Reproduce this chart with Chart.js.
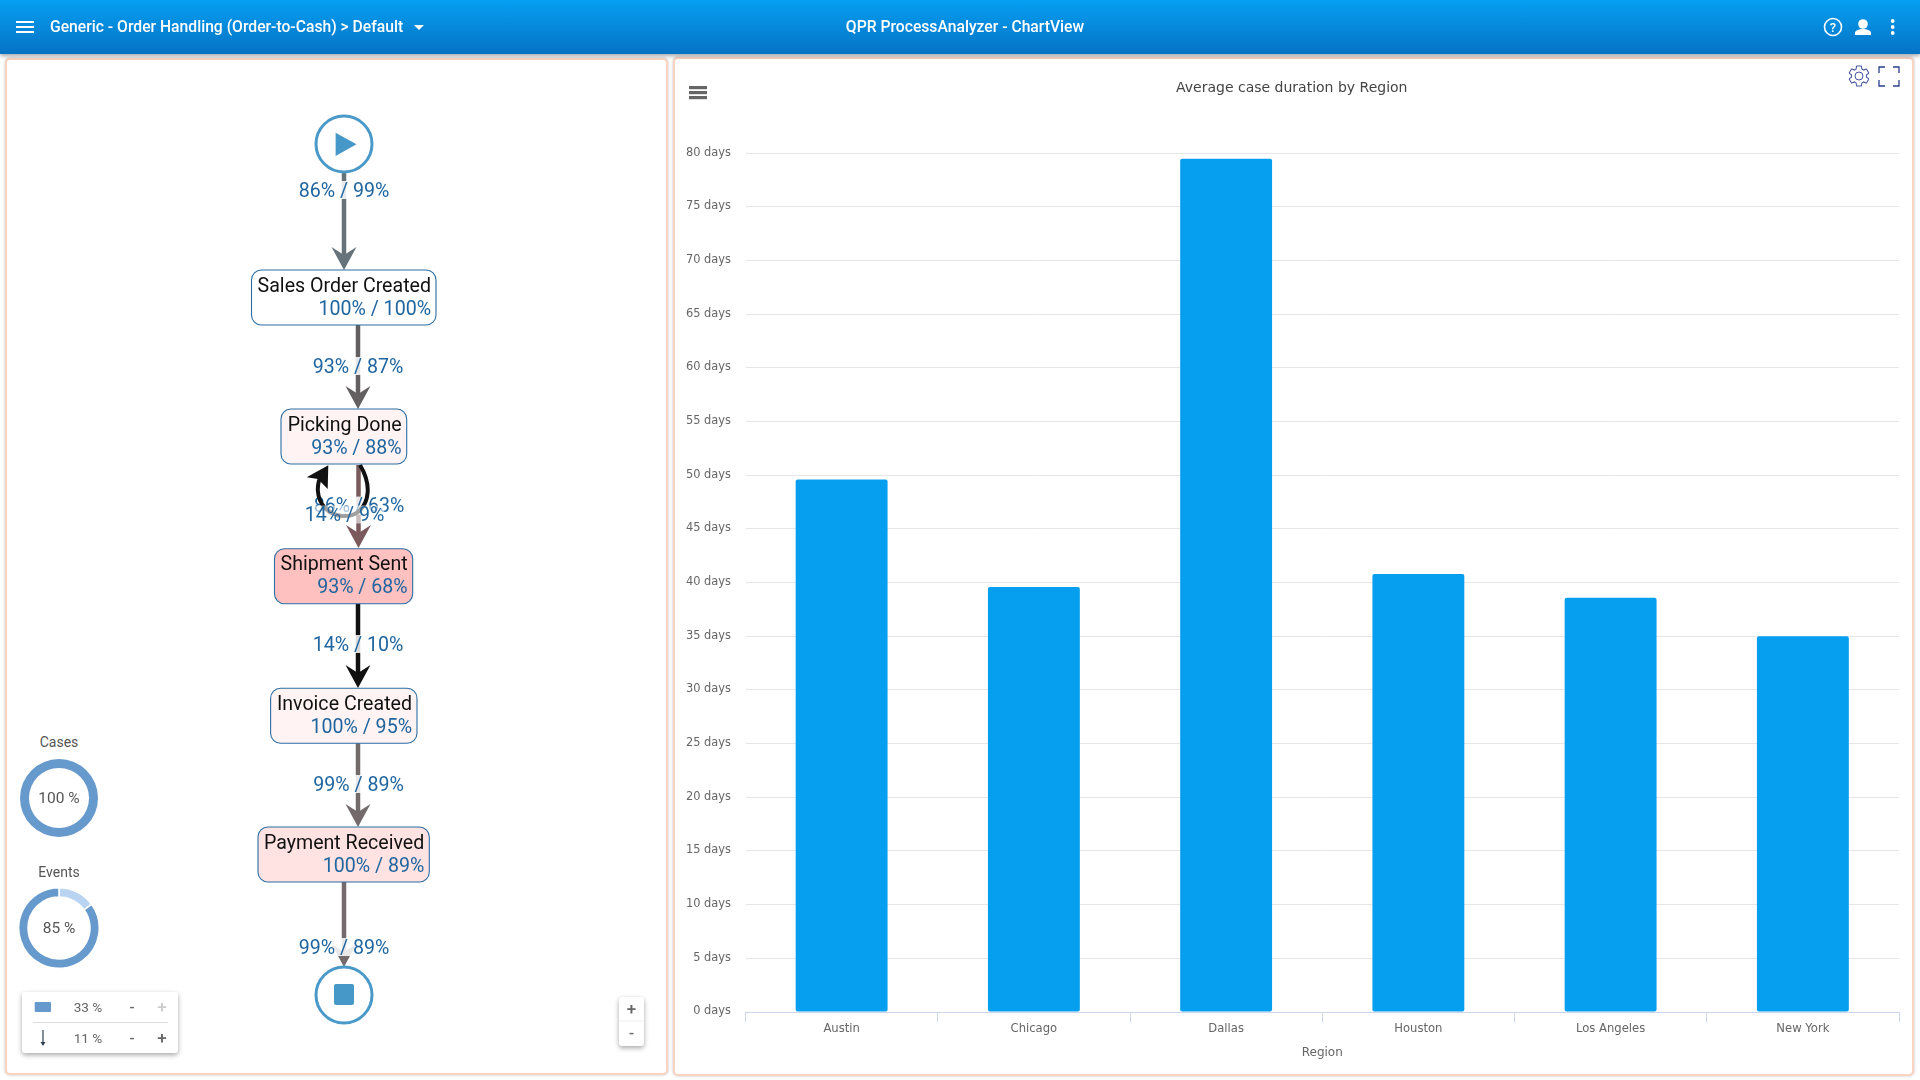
<!DOCTYPE html>
<html>
<head>
<meta charset="utf-8">
<title>QPR ProcessAnalyzer - ChartView</title>
<script src="https://cdn.jsdelivr.net/npm/chart.js@4/dist/chart.umd.min.js"></script>
<style>
  html, body { margin: 0; padding: 0; background: #fff; overflow: hidden; }
  body { width: 1920px; height: 1080px; position: relative; font-family: Roboto, sans-serif; }
  .header {
    position: absolute; left: 0; top: 0; width: 1920px; height: 54px; z-index: 3;
    background: linear-gradient(#069ff2, #0673c4);
    box-shadow: 0 2px 4px rgba(0, 0, 0, 0.35);
    color: #fff; font-size: 15.7px; font-weight: 500;
  }
  .header span { position: absolute; top: 17px; line-height: 20px; white-space: nowrap; }
  .panel {
    position: absolute; box-sizing: border-box; background: #fff;
    border: 2px solid #fbd3c1; border-radius: 5px;
    box-shadow: 0 0 3px rgba(0, 0, 0, 0.25);
  }
  #mapPanel { left: 5px; top: 58px; width: 663px; height: 1017px; }
  #chartPanel { left: 673px; top: 57px; width: 1241px; height: 1019px; }
  #overlay { position: absolute; left: 0; top: 0; z-index: 2; }
  #barChart { position: absolute; left: 675px; top: 59px; z-index: 1; }
  .donut { position: absolute; z-index: 2; }
  .small { position: absolute; z-index: 2; color: #555; font-size: 14px; text-align: center; width: 80px; left: 19px; }
  .box { position: absolute; z-index: 1; background: #fff; border-radius: 3px; box-shadow: 0 2px 5px rgba(0, 0, 0, 0.35); }
  #sizeBox { left: 22px; top: 992px; width: 156px; height: 61px; }
  #zoomBox { left: 619px; top: 997px; width: 25px; height: 49px; }
</style>
</head>
<body>
<div class="header">
  <span id="viewName" style="left:50px"></span>
  <span id="appName" style="left:845px;width:240px;text-align:center"></span>
</div>
<div id="mapPanel" class="panel"></div>
<div id="chartPanel" class="panel"></div>
<canvas id="barChart" width="1237" height="1014"></canvas>
<div class="box" id="sizeBox"></div>
<div class="box" id="zoomBox"></div>
<div class="small" style="top:734px">Cases</div>
<canvas class="donut" id="casesDonut" width="80" height="80" style="left:19px;top:758px"></canvas>
<div class="small" style="top:789px;font-size:15.5px">100 %</div>
<div class="small" style="top:864px">Events</div>
<canvas class="donut" id="eventsDonut" width="84" height="84" style="left:17px;top:886px"></canvas>
<div class="small" style="top:919px;font-size:15.5px">85 %</div>
<svg id="overlay" width="1920" height="1080" xmlns="http://www.w3.org/2000/svg"></svg>

<script>
// chart values
const regions = ['Austin', 'Chicago', 'Dallas', 'Houston', 'Los Angeles', 'New York'];
const avgDurationDays = [49.6, 39.6, 79.5, 40.8, 38.6, 35.0];
const yAxisMax = 80;
const yAxisStep = 5;
const chartTitle = 'Average case duration by Region';
const xAxisTitle = 'Region';

// process map values
const nodeNames = ['Sales Order Created', 'Picking Done', 'Shipment Sent', 'Invoice Created', 'Payment Received'];
const nodeShares = ['100% / 100%', '93% / 88%', '93% / 68%', '100% / 95%', '100% / 89%'];
const edgeShares = ['86% / 99%', '93% / 87%', '86% / 63%', '14% / 9%', '14% / 10%', '99% / 89%', '99% / 89%'];
const casesShare = [100];
const eventsShare = [15, 85];
const sizeSettings = ['33 %', '11 %'];

document.getElementById('viewName').textContent = 'Generic - Order Handling (Order-to-Cash) > Default';
document.getElementById('appName').textContent = 'QPR ProcessAnalyzer - ChartView';

new Chart('barChart', {
  type: 'bar',
  data: {
    labels: regions,
    datasets: [{
      data: avgDurationDays,
      backgroundColor: '#069eef',
      borderRadius: 2,
      borderSkipped: false,
      categoryPercentage: 1,
      barPercentage: 0.478,
    }],
  },
  options: {
    responsive: false,
    animation: false,
    layout: { padding: { left: 9.5, right: 13, bottom: 9 } },
    plugins: {
      legend: { display: false },
      tooltip: { enabled: false },
      title: {
        display: true,
        text: chartTitle,
        color: '#444',
        font: { family: 'DejaVu Sans', size: 14, weight: 'normal' },
        padding: { top: 21, bottom: 56.5 },
      },
    },
    scales: {
      x: {
        afterFit: (scale) => { scale.height = 52; },
        border: { color: '#ccd6eb', width: 1 },
        grid: { drawOnChartArea: false, drawTicks: true, tickLength: 10, tickColor: '#ccd6eb' },
        ticks: { color: '#666', font: { family: 'DejaVu Sans', size: 11.6 }, padding: 0, maxRotation: 0, autoSkip: false },
        title: {
          display: true,
          text: xAxisTitle,
          color: '#666',
          font: { family: 'DejaVu Sans', size: 12 },
          padding: { top: 1, bottom: 4 },
        },
      },
      y: {
        afterFit: (scale) => { scale.width = 61; },
        min: 0,
        max: yAxisMax,
        border: { display: false },
        grid: { color: '#e6e6e6', drawTicks: false },
        ticks: {
          stepSize: yAxisStep,
          color: '#666',
          font: { family: 'DejaVu Sans', size: 11.4 },
          padding: 14.5,
          labelOffset: -0.5,
          callback: (v) => `${v} days`,
        },
      },
    },
  },
});

function donut(id, data, colors, border) {
  new Chart(id, {
    type: 'doughnut',
    data: { datasets: [{ data, backgroundColor: colors, borderWidth: border, borderColor: '#fff' }] },
    options: {
      responsive: false,
      animation: false,
      cutout: '77%',
      layout: { padding: 1 },
      plugins: { legend: { display: false }, tooltip: { enabled: false } },
    },
  });
}
donut('casesDonut', casesShare, ['#6699cc'], 0);
donut('eventsDonut', eventsShare, ['#b8d4f0', '#6699cc'], 1.5);

// the process map and the icons around it are plain svg
const svg = document.getElementById('overlay');
const NS = 'http://www.w3.org/2000/svg';

function add(tag, attrs, text) {
  const el = document.createElementNS(NS, tag);
  Object.keys(attrs).forEach((k) => el.setAttribute(k, attrs[k]));
  if (text) el.textContent = text;
  svg.appendChild(el);
  return el;
}

function arrow(x, tip, color) {
  add('path', { d: `M${x},${tip} L${x - 12.5},${tip - 23} L${x},${tip - 15} L${x + 12.5},${tip - 23} Z`, fill: color });
}

function edge(x, y0, y1, color) {
  add('line', { x1: x, y1: y0, x2: x, y2: y1 - 10, stroke: color, 'stroke-width': 4.5 });
  arrow(x, y1, color);
}

function edgeLabel(i, x, y, wash = 0.85) {
  const t = add('text', { x, y, 'text-anchor': 'middle', 'dominant-baseline': 'central', 'font-size': 19.6, fill: '#1f659f' }, edgeShares[i]);
  const w = t.getComputedTextLength();
  const r = add('rect', { x: x - w / 2, y: y - 9, width: w, height: 18, fill: '#fff', 'fill-opacity': wash });
  svg.insertBefore(r, t);
}

function node(i, x0, x1, y0, fill) {
  add('rect', { x: x0, y: y0, width: x1 - x0, height: 55, rx: 10, fill, stroke: '#2c6ea4', 'stroke-width': 1.1 });
  add('text', { x: x1 - 5, y: y0 + 15, 'text-anchor': 'end', 'dominant-baseline': 'central', 'font-size': 19.6, fill: '#111' }, nodeNames[i]);
  add('text', { x: x1 - 5, y: y0 + 38, 'text-anchor': 'end', 'dominant-baseline': 'central', 'font-size': 19.6, fill: '#1f659f' }, nodeShares[i]);
}

// edges
edge(344, 173, 270, '#66737a');
edge(358, 325, 409, '#635f60');
edge(358.5, 465, 548, '#7a5a5c');
edge(358, 603, 688, '#111111');
edge(358, 743, 827, '#736a6b');
edge(344, 882, 967, '#736a6b');
edgeLabel(2, 359, 505.6);

// loop between picking and shipment, over the label of the straight edge
add('path', {
  d: 'M360,465 C372,485 369,503 358,512 C350,518 335,518 325,508 C316,498 316,484 322,474',
  fill: 'none', stroke: '#111', 'stroke-width': 4,
});
add('path', { d: 'M328.3,465.3 L306.7,477.3 L318,479 L327.7,489 Z', fill: '#111' });

// start and end
add('circle', { cx: 344, cy: 144, r: 28, fill: '#fff', stroke: '#4a9ac9', 'stroke-width': 3 });
add('path', { d: 'M335.6,132.7 L356.5,144.3 L335.6,156 Z', fill: '#4698c9' });
add('circle', { cx: 344, cy: 995, r: 28, fill: '#fff', stroke: '#4a9ac9', 'stroke-width': 3 });
add('rect', { x: 334, y: 984, width: 20, height: 21, rx: 2, fill: '#4698c9' });

node(0, 251.5, 436, 270, '#fff');
node(1, 281, 406.7, 409, '#fff3f3');
node(2, 274.5, 412.7, 548.8, '#ffc0c0');
node(3, 270.6, 417, 688.3, '#fff3f3');
node(4, 258, 429.3, 827, '#ffe3e3');

edgeLabel(0, 344, 190);
edgeLabel(1, 358, 366);
edgeLabel(3, 344.5, 514.5, 0.6);
edgeLabel(4, 358, 644);
edgeLabel(5, 358.6, 784);
edgeLabel(6, 344, 947);

// size box
add('rect', { x: 34.7, y: 1002, width: 16.3, height: 10, rx: 1, fill: '#6699cc' });
add('line', { x1: 33, y1: 1022.5, x2: 168, y2: 1022.5, stroke: '#ddd' });
add('path', { d: 'M43,1030 V1043', stroke: '#2f4050', 'stroke-width': 1.2 });
add('path', { d: 'M40.5,1042 L43,1046 L45.5,1042 Z', fill: '#2f4050' });
[1006.5, 1037.5].forEach((y, i) => {
  add('text', { x: 88, y, 'text-anchor': 'middle', 'dominant-baseline': 'central', 'font-size': 13.6, fill: '#666' }, sizeSettings[i]);
  add('text', { x: 132, y, 'text-anchor': 'middle', 'dominant-baseline': 'central', 'font-size': 15, 'font-weight': 500, fill: '#666' }, '-');
  add('text', { x: 162, y, 'text-anchor': 'middle', 'dominant-baseline': 'central', 'font-size': 17, 'font-weight': 500, fill: i ? '#666' : '#ccc' }, '+');
});

// zoom box
add('line', { x1: 619, y1: 1021, x2: 644, y2: 1021, stroke: '#eee' });
add('text', { x: 631.5, y: 1008.5, 'text-anchor': 'middle', 'dominant-baseline': 'central', 'font-size': 17, 'font-weight': 500, fill: '#666' }, '+');
add('text', { x: 631.5, y: 1033, 'text-anchor': 'middle', 'dominant-baseline': 'central', 'font-size': 15, 'font-weight': 500, fill: '#666' }, '-');

// chart panel icons
[86, 91, 96].forEach((y) => add('rect', { x: 689, y, width: 18, height: 3.2, fill: '#666' }));
add('path', {
  d: 'M19.14,12.94c0.04-0.3,0.06-0.61,0.06-0.94c0-0.32-0.02-0.64-0.07-0.94l2.03-1.58c0.18-0.14,0.23-0.41,0.12-0.61l-1.92-3.32c-0.12-0.22-0.37-0.29-0.59-0.22l-2.39,0.96c-0.5-0.38-1.03-0.7-1.62-0.94L14.4,2.81c-0.04-0.24-0.24-0.41-0.48-0.41h-3.84c-0.24,0-0.43,0.17-0.47,0.41L9.25,5.35C8.66,5.59,8.12,5.92,7.63,6.29L5.24,5.33c-0.22-0.08-0.47,0-0.59,0.22L2.74,8.87C2.62,9.08,2.66,9.34,2.86,9.48l2.03,1.58C4.84,11.36,4.8,11.69,4.8,12s0.02,0.64,0.07,0.94l-2.03,1.58c-0.18,0.14-0.23,0.41-0.12,0.61l1.92,3.32c0.12,0.22,0.37,0.29,0.59,0.22l2.39-0.96c0.5,0.38,1.03,0.7,1.62,0.94l0.36,2.54c0.05,0.24,0.24,0.41,0.48,0.41h3.84c0.24,0,0.44-0.17,0.47-0.41l0.36-2.54c0.59-0.24,1.13-0.56,1.62-0.94l2.39,0.96c0.22,0.08,0.47,0,0.59-0.22l1.92-3.32c0.12-0.22,0.07-0.47-0.12-0.61L19.14,12.94z',
  fill: 'none', stroke: '#4455a0', 'stroke-width': 1, transform: 'translate(1846.5,63.5) scale(1.04)',
});
add('circle', { cx: 1859, cy: 76, r: 4, fill: 'none', stroke: '#4455a0', 'stroke-width': 1 });
add('path', {
  d: 'M1879,73 V67 H1885 M1893,67 H1899 V73 M1899,80 V86 H1893 M1885,86 H1879 V80',
  fill: 'none', stroke: '#2a3f8f', 'stroke-width': 1.3,
});

// header icons sit on top of the header
const headIcons = document.createElementNS(NS, 'svg');
headIcons.setAttribute('width', 1920);
headIcons.setAttribute('height', 54);
headIcons.style.position = 'absolute';
document.querySelector('.header').appendChild(headIcons);
function addHead(tag, attrs, text) {
  const el = add(tag, attrs, text);
  headIcons.appendChild(el);
}
[21, 26, 31].forEach((y) => addHead('rect', { x: 16, y, width: 18, height: 2, fill: '#fff' }));
addHead('path', { d: 'M414,25 H424 L419,30 Z', fill: '#fff' });
addHead('circle', { cx: 1833, cy: 27, r: 8.5, fill: 'none', stroke: '#fff', 'stroke-width': 1.6 });
addHead('text', { x: 1833, y: 27.5, 'text-anchor': 'middle', 'dominant-baseline': 'central', 'font-size': 13, 'font-weight': 500, fill: '#fff' }, '?');
addHead('circle', { cx: 1863, cy: 24, r: 4.8, fill: '#fff' });
addHead('path', { d: 'M1855,35 V33 C1855,30 1860,29 1863,29 C1866,29 1871,30 1871,33 V35 Z', fill: '#fff' });
[21, 27, 33].forEach((y) => addHead('circle', { cx: 1892.7, cy: y, r: 1.9, fill: '#fff' }));
</script>
</body>
</html>
